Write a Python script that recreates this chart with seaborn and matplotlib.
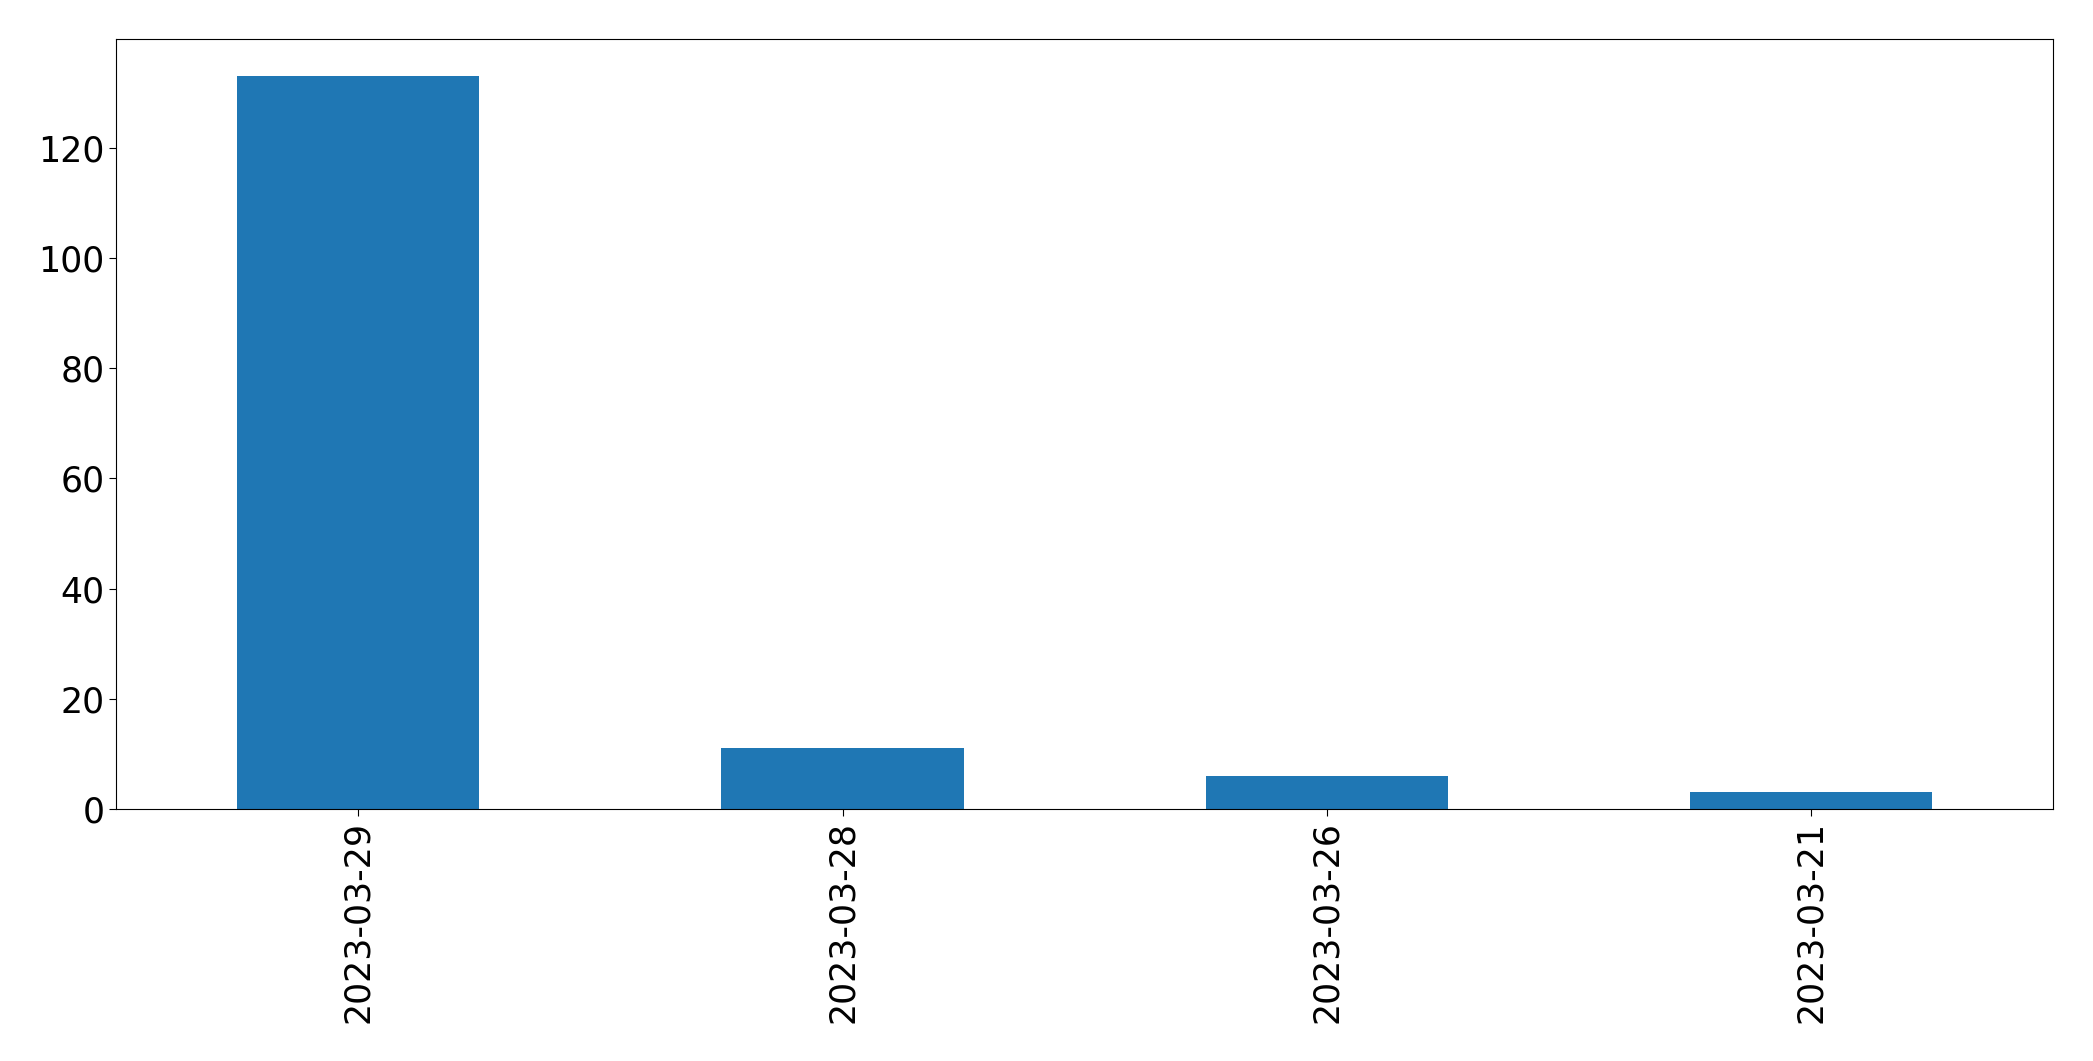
import pandas as pd
import matplotlib
matplotlib.use("Agg")
import matplotlib.pyplot as plt
import seaborn as sns

# Counts per date
dates = ["2023-03-29", "2023-03-28", "2023-03-26", "2023-03-21"]
counts = [133, 11, 6, 3]

df = pd.DataFrame({"date": dates, "count": counts})

fig, ax = plt.subplots(figsize=(20.93, 10.61), dpi=100)
sns.barplot(data=df, x="date", y="count", color="#1f77b4", saturation=1,
            width=0.5, linewidth=0, ax=ax)
ax.set_xlim(-0.5, len(dates) - 0.5)
ax.set_ylim(0, max(counts) * 1.05)
ax.set_xlabel("")
ax.set_ylabel("")
for s in ax.spines.values():
    s.set_color("black")
ax.tick_params(axis="both", labelsize=25, length=5, colors="black")
plt.xticks(rotation=90)
fig.subplots_adjust(left=0.0555, right=0.981, top=0.963, bottom=0.2375)
fig.savefig("out.png", dpi=100)
